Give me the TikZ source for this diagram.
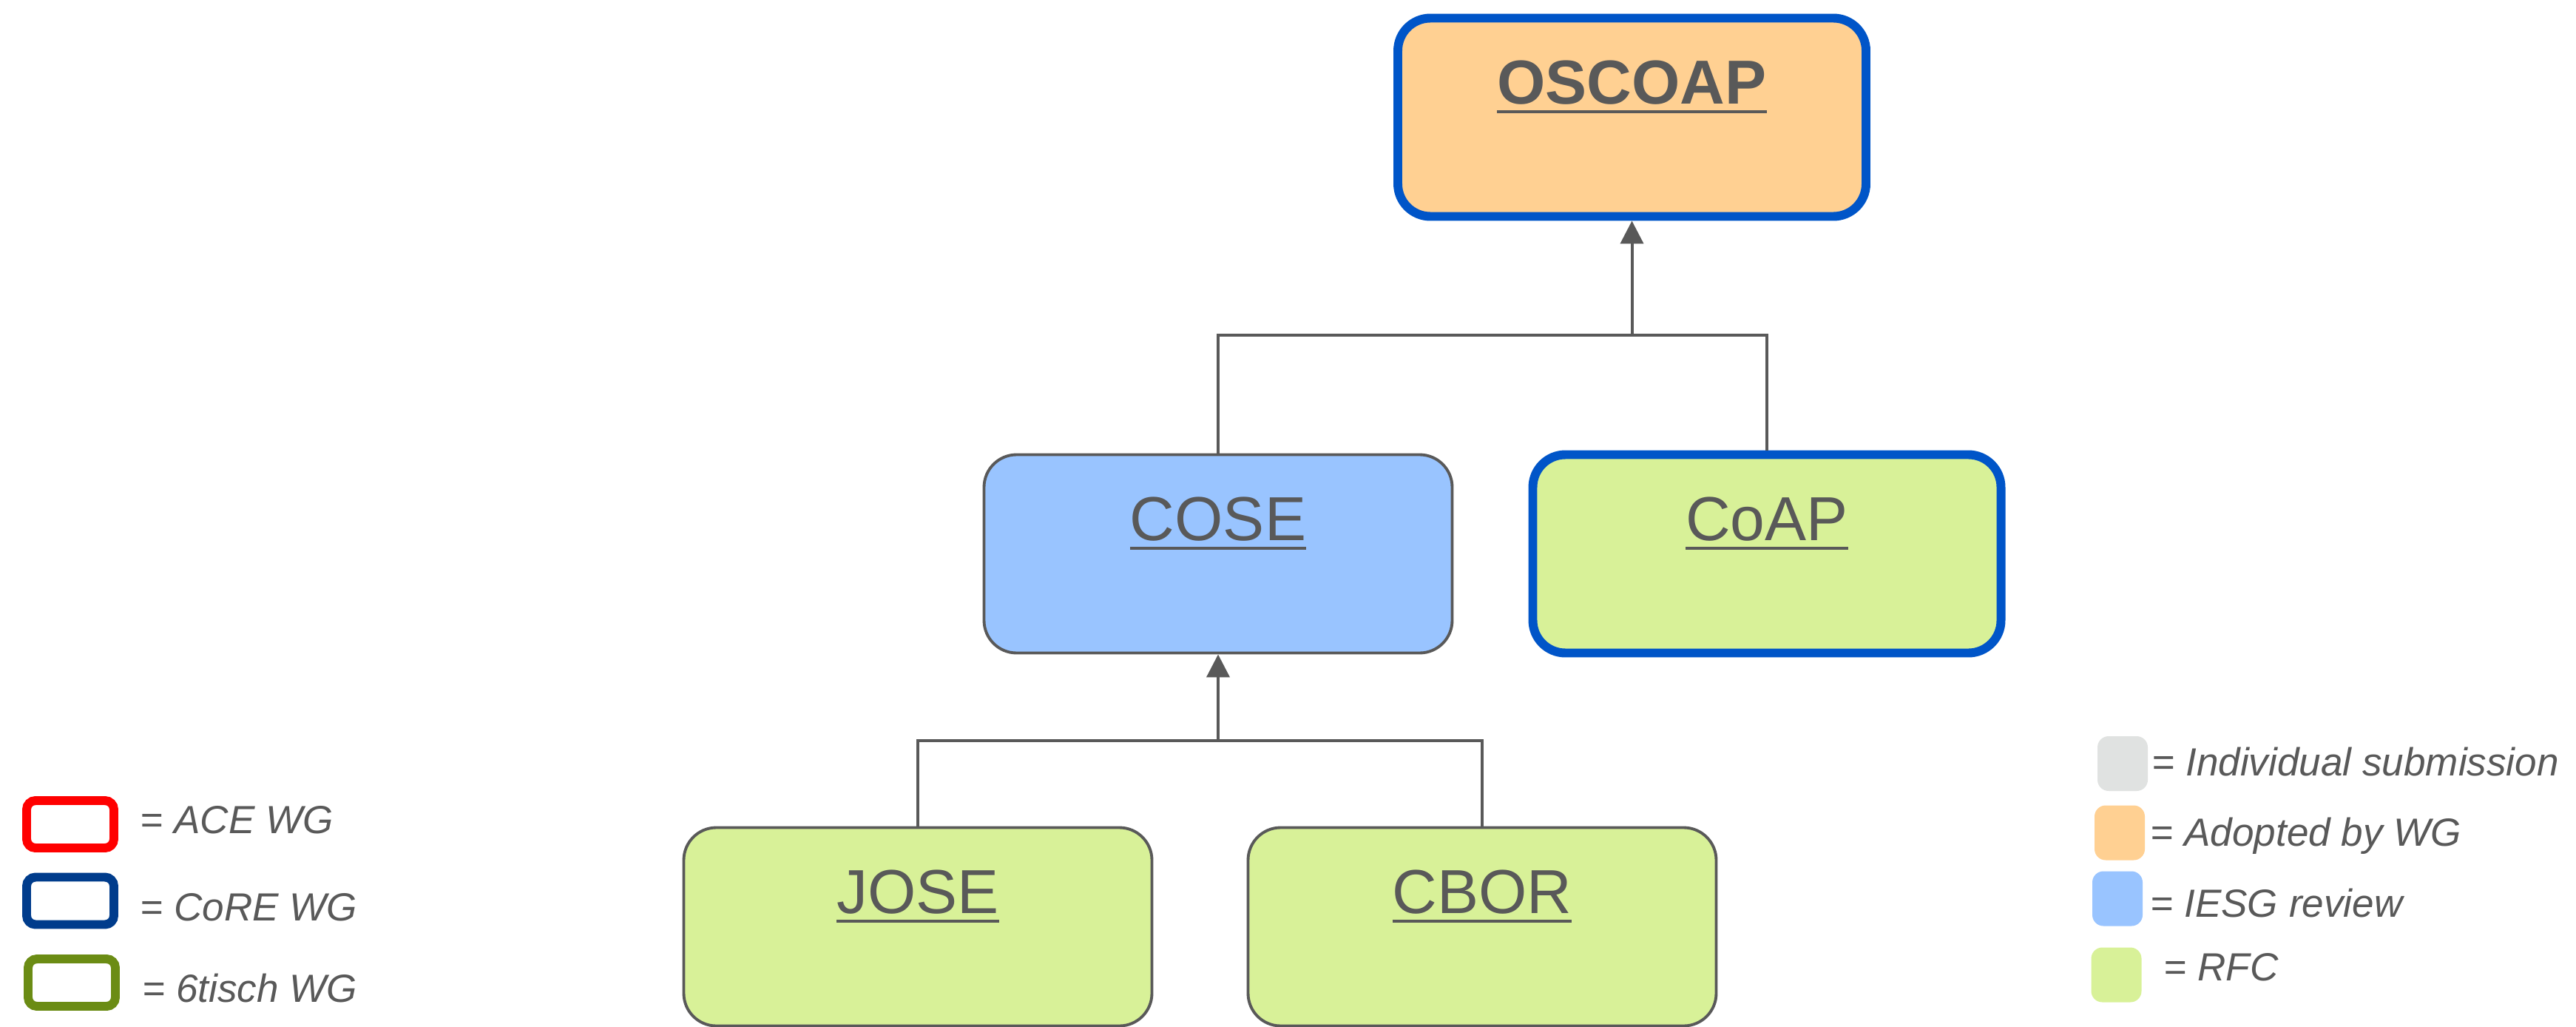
\documentclass[tikz,border=0pt]{standalone}
\usepackage{fontspec}
\setmainfont{Liberation Sans}
\usetikzlibrary{arrows.meta}

\definecolor{txtgray}{HTML}{595959}
\definecolor{wgblue}{HTML}{0055C8}
\definecolor{acered}{HTML}{FF0000}
\definecolor{coreblue}{HTML}{003C8C}
\definecolor{tischgreen}{HTML}{6B8C14}
\definecolor{indivgray}{HTML}{E0E2E1}
\definecolor{adoptorange}{HTML}{FFD092}
\definecolor{iesgblue}{HTML}{99C4FF}
\definecolor{rfcgreen}{HTML}{D8F198}

% underlined draft name
\newcommand{\ulname}[1]{\vtop{\hbox{#1}\kern2.2pt\hrule height 1.15pt}}

\tikzset{
  doc/.style={rectangle, rounded corners=0.44cm, minimum width=6.33cm,
    minimum height=2.68cm, inner sep=0pt, text height=0.60cm, text depth=0.96cm,
    text=txtgray, font=\fontsize{23.9}{28}\selectfont, draw=txtgray, line width=1.1pt},
  corewg/.style={doc, draw=wgblue, line width=3.4pt},
  conn/.style={draw=txtgray, line width=1.15pt},
  wgkey/.style={rectangle, rounded corners=0.12cm, minimum width=1.18cm,
    minimum height=0.64cm, line width=3.4pt, fill=white},
  statkey/.style={rectangle, rounded corners=0.15cm, minimum width=0.68cm,
    minimum height=0.74cm, inner sep=0pt},
  keytext/.style={anchor=base west, inner sep=0pt, text=txtgray,
    font=\fontsize{15.1}{18}\selectfont\itshape}
}

\begin{document}
\begin{tikzpicture}
  \useasboundingbox (0,0) rectangle (34.83,13.87);

  % drafts
  \node[corewg, fill=adoptorange, font=\fontsize{23.9}{28}\selectfont\bfseries] (oscoap) at (22.065,12.285) {\ulname{OSCOAP}};
  \node[doc, fill=iesgblue] (cose) at (16.47,6.385) {\ulname{COSE}};
  \node[corewg, fill=rfcgreen] (coap) at (23.89,6.385) {\ulname{CoAP}};
  \node[doc, fill=rfcgreen] (jose) at (12.41,1.345) {\ulname{JOSE}};
  \node[doc, fill=rfcgreen] (cbor) at (20.04,1.345) {\ulname{CBOR}};

  % dependencies
  \coordinate (upjoin) at (22.065,9.343);
  \coordinate (lowjoin) at (16.47,3.86);
  \draw[conn] (cose.north) |- (upjoin) -| (coap.north);
  \draw[conn, -{Triangle[length=3.1mm,width=3.1mm]}] (upjoin) -- (oscoap.south);
  \draw[conn] (jose.north) |- (lowjoin) -| (cbor.north);
  \draw[conn, -{Triangle[length=3.1mm,width=3.1mm]}] (lowjoin) -- (cose.south);

  % working groups
  \node[wgkey, draw=acered] (ace) at (0.95,2.73) {};
  \node[wgkey, draw=coreblue] (core) at (0.95,1.695) {};
  \node[wgkey, draw=tischgreen] (tisch) at (0.97,0.59) {};
  \node[keytext] (ace-t) at (1.89,2.61) {= ACE WG};
  \node[keytext] (core-t) at (1.89,1.43) {= CoRE WG};
  \node[keytext] (tisch-t) at (1.92,0.33) {= 6tisch WG};

  % status
  \node[statkey, fill=indivgray] (indiv) at (28.70,3.55) {};
  \node[statkey, fill=adoptorange] (adopt) at (28.66,2.615) {};
  \node[statkey, fill=iesgblue] (iesg) at (28.63,1.725) {};
  \node[statkey, fill=rfcgreen] (rfc) at (28.615,0.695) {};
  \node[keytext] (indiv-t) at (29.09,3.39) {= Individual submission};
  \node[keytext] (adopt-t) at (29.07,2.44) {= Adopted by WG};
  \node[keytext] (iesg-t) at (29.07,1.48) {= IESG review};
  \node[keytext] (rfc-t) at (29.25,0.62) {= RFC};
\end{tikzpicture}
\end{document}
